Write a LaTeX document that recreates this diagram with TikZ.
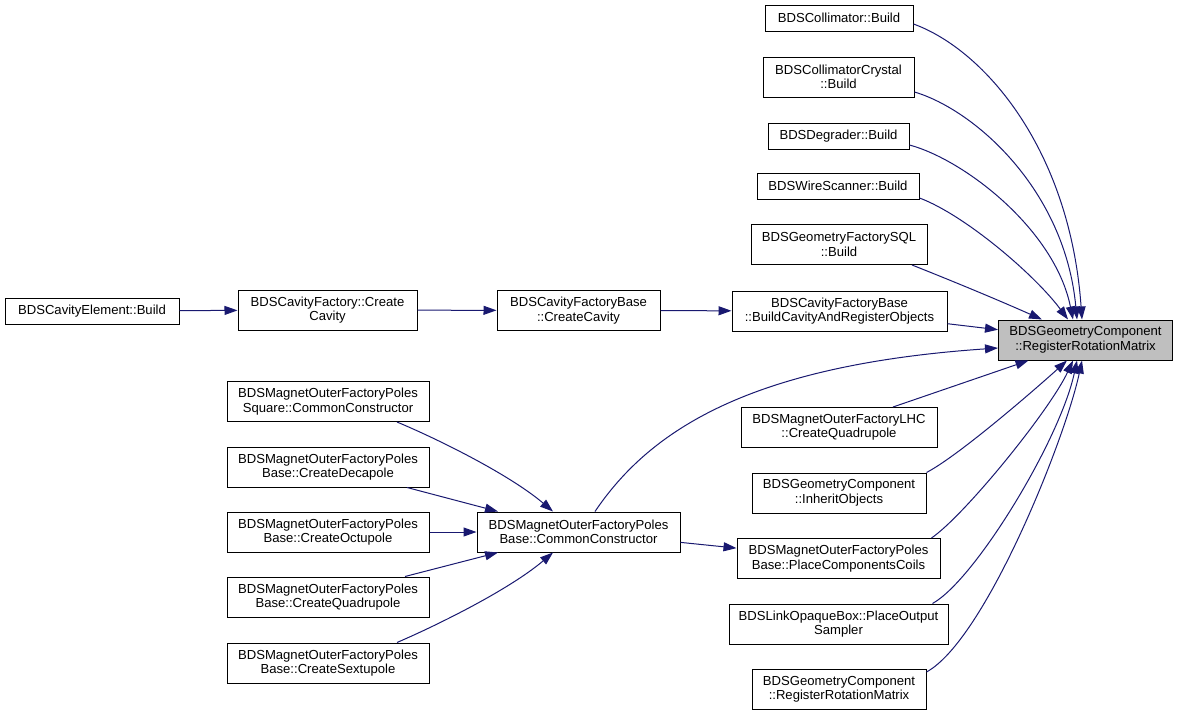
\documentclass[tikz,border=0pt]{standalone}
\usepackage{fontspec}
\setmainfont{Liberation Sans}
\usetikzlibrary{arrows.meta,calc}
\definecolor{edgeblue}{RGB}{25,25,112}
\definecolor{targetgrey}{RGB}{191,191,191}
\tikzset{
  fbox/.style={draw=black, line width=1pt, fill=white, inner sep=0pt, align=center,
    font=\fontsize{13.1}{14.5}\selectfont, minimum height=40pt},
  onebox/.style={fbox, minimum height=26pt},
  tbox/.style={fbox, fill=targetgrey},
  edge/.style={draw=edgeblue, line width=1pt, -{Triangle[length=13pt,width=9pt]}}
}
\begin{document}
\begin{tikzpicture}[x=1pt,y=-1pt]
\useasboundingbox (0,0) rectangle (1179,715);
% right column
\node[onebox, minimum width=148pt] (n1) at (839,18) {BDSCollimator::Build};
\node[fbox, minimum width=151pt] (n2) at (838.5,77) {BDSCollimatorCrystal\\::Build};
\node[onebox, minimum width=141pt] (n3) at (838.5,136.5) {BDSDegrader::Build};
\node[onebox, minimum width=162pt] (n4) at (838,186) {BDSWireScanner::Build};
\node[fbox, minimum width=176pt] (n5) at (839,244.5) {BDSGeometryFactorySQL\\::Build};
\node[fbox, minimum width=215pt] (n6) at (839.5,311) {BDSCavityFactoryBase\\::BuildCavityAndRegisterObjects};
\node[tbox, minimum width=174pt] (t) at (1085.5,340) {BDSGeometryComponent\\::RegisterRotationMatrix};
\node[fbox, minimum width=196pt] (n8) at (839,427.5) {BDSMagnetOuterFactoryLHC\\::CreateQuadrupole};
\node[fbox, minimum width=174pt] (n9) at (839,493) {BDSGeometryComponent\\::InheritObjects};
\node[fbox, minimum width=203pt] (n10) at (838.5,558.5) {BDSMagnetOuterFactoryPoles\\Base::PlaceComponentsCoils};
\node[fbox, minimum width=219pt] (n11) at (838.5,624) {BDSLinkOpaqueBox::PlaceOutput\\Sampler};
\node[fbox, minimum width=174pt] (n12) at (839,689.5) {BDSGeometryComponent\\::RegisterRotationMatrix};
% left part
\node[onebox, minimum width=174pt] (n13) at (92,311) {BDSCavityElement::Build};
\node[fbox, minimum width=179pt] (n14) at (327.5,310) {BDSCavityFactory::Create\\Cavity};
\node[fbox, minimum width=163pt] (n15) at (578.5,310.5) {BDSCavityFactoryBase\\::CreateCavity};
\node[fbox, minimum width=203pt] (n16) at (578.5,532) {BDSMagnetOuterFactoryPoles\\Base::CommonConstructor};
\node[fbox, minimum width=202pt] (n17) at (328,401.5) {BDSMagnetOuterFactoryPoles\\Square::CommonConstructor};
\node[fbox, minimum width=202pt] (n18) at (328,467) {BDSMagnetOuterFactoryPoles\\Base::CreateDecapole};
\node[fbox, minimum width=202pt] (n19) at (328,532) {BDSMagnetOuterFactoryPoles\\Base::CreateOctupole};
\node[fbox, minimum width=202pt] (n20) at (328,597) {BDSMagnetOuterFactoryPoles\\Base::CreateQuadrupole};
\node[fbox, minimum width=202pt] (n21) at (328,663) {BDSMagnetOuterFactoryPoles\\Base::CreateSextupole};
% chain
\draw[edge] (n13) -- (n14);
\draw[edge] (n14) -- (n15);
\draw[edge] (n15) -- (n6);
\draw[edge] (n6) -- (t);
% upper callers
\draw[edge] ($(n1.east)+(0,6)$) .. controls (985,50) and (1070,150) .. ($(t.north)+(-3.5,0)$);
\draw[edge] ($(n2.east)+(0,15)$) .. controls (975,110) and (1065,190) .. ($(t.north)+(-8.5,0)$);
\draw[edge] ($(n3.east)+(0,8.5)$) .. controls (965,160) and (1055,230) .. ($(t.north)+(-12.5,0)$);
\draw[edge] ($(n4.east)+(0,12)$) .. controls (965,215) and (1035,275) .. ($(t.north)+(-17.5,0)$);
\draw[edge] ($(n5.south)+(73,0)$) .. controls (960,284) and (1005,303) .. ($(t.north)+(-43.5,0)$);
% lower callers
\draw[edge] ($(n8.north)+(54,0)$) -- ($(t.south)+(-57,0)$);
\draw[edge] (n9.north east) .. controls (960,455) and (1040,385) .. ($(t.south)+(-18.5,0)$);
\draw[edge] ($(n10.north east)+(-9,0)$) .. controls (965,515) and (1050,410) .. ($(t.south)+(-12.5,0)$);
\draw[edge] ($(n11.north east)+(-16,0)$) .. controls (975,580) and (1060,440) .. ($(t.south)+(-8.5,0)$);
\draw[edge] ($(n12.north east)+(0,3)$) .. controls (985,640) and (1065,440) .. ($(t.south)+(-3.5,0)$);
% common constructor
\draw[edge] ($(n16.north)+(16.5,0)$) .. controls (650,430) and (750,365) .. ($(t.west)+(0,8)$);
\draw[edge] (n16) -- (n10);
\draw[edge] ($(n17.south)+(69,0)$) .. controls (440,440) and (510,475) .. ($(n16.north)+(-25.5,0)$);
\draw[edge] ($(n18.south)+(79,0)$) -- ($(n16.north)+(-80.5,0)$);
\draw[edge] (n19) -- (n16);
\draw[edge] ($(n20.north)+(77,0)$) -- ($(n16.south)+(-80.5,0)$);
\draw[edge] ($(n21.north)+(69,0)$) .. controls (440,624) and (510,589) .. ($(n16.south)+(-25.5,0)$);
\end{tikzpicture}
\end{document}
